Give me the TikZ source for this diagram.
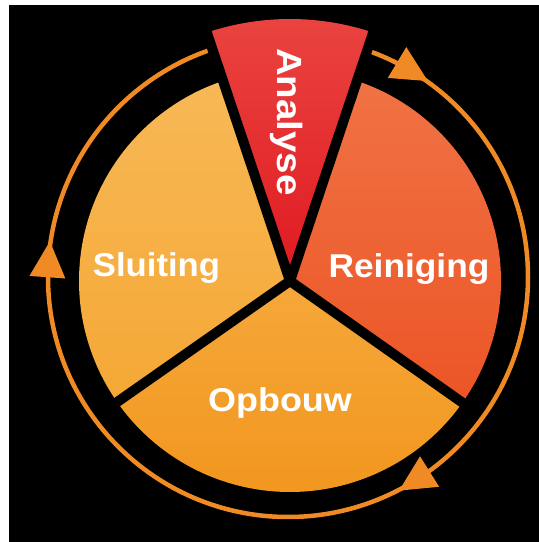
\documentclass[tikz,border=0pt]{standalone}
\usepackage{fontspec}
\setmainfont{Liberation Sans}
\usepackage{graphicx}
\definecolor{ringc}{HTML}{F08A24}
\definecolor{analc}{HTML}{E01A22}
\definecolor{analhi}{HTML}{EA4440}
\definecolor{reinc}{HTML}{EC5526}
\definecolor{reinhi}{HTML}{F07244}
\definecolor{opbc}{HTML}{F2961E}
\definecolor{opbhi}{HTML}{F5A83A}
\definecolor{sluc}{HTML}{F5A835}
\definecolor{sluhi}{HTML}{F7B856}
\begin{document}
\begin{tikzpicture}[x=1pt,y=1pt,
  lbl/.style={text=white,font=\fontsize{33}{38}\selectfont\bfseries,inner sep=0pt},
  gapline/.style={black,line width=10pt},
  ringline/.style={ringc,line width=4.5pt},
  arrowhead/.style={fill=ringc}]
\useasboundingbox (0,0) rectangle (539,542);
\fill[white] (0,0) rectangle (539,542);
\fill[black] (9,0) rectangle (539,537);
\coordinate (C) at (290,261);
\coordinate (R) at (288,265);
% ring with arrowheads
\draw[ringline] (R) circle[radius=240];
\foreach \a in {59,-58,176}
  \fill[arrowhead,shift={(R)},rotate=\a] (222,17) -- (258,17) -- (240,-19) -- cycle;
% sectors
\shade[top color=sluhi,bottom color=sluc] (C) -- ++(108.5:211) arc[start angle=108.5,end angle=215,radius=211] -- cycle;
\shade[top color=opbhi,bottom color=opbc] (C) -- ++(215:211) arc[start angle=215,end angle=324.8,radius=211] -- cycle;
\shade[top color=reinhi,bottom color=reinc] (C) -- ++(-35.2:211) arc[start angle=-35.2,end angle=71.5,radius=211] -- cycle;
\shade[top color=analhi,bottom color=analc] (C) -- ++(71.5:262) arc[start angle=71.5,end angle=108.5,radius=262] -- cycle;
% gaps
\foreach \a/\r in {71.5/266,108.5/266,215/216,-35.2/216}
  \draw[gapline] (C) -- ++(\a:\r);
% labels
\node[lbl,anchor=base] (slu) at (156.5,265) {\scalebox{1.05}[1]{Sluiting}};
\node[lbl,anchor=base] (rei) at (409,264) {\scalebox{1.07}[1]{Reiniging}};
\node[lbl,anchor=base] (opb) at (280,130) {\scalebox{1.09}[1]{Opbouw}};
\node[lbl,anchor=base,rotate=-90,font=\fontsize{35}{40}\selectfont\bfseries] (ana) at (277,420) {\scalebox{1.1}[1]{Analyse}};
\end{tikzpicture}
\end{document}
